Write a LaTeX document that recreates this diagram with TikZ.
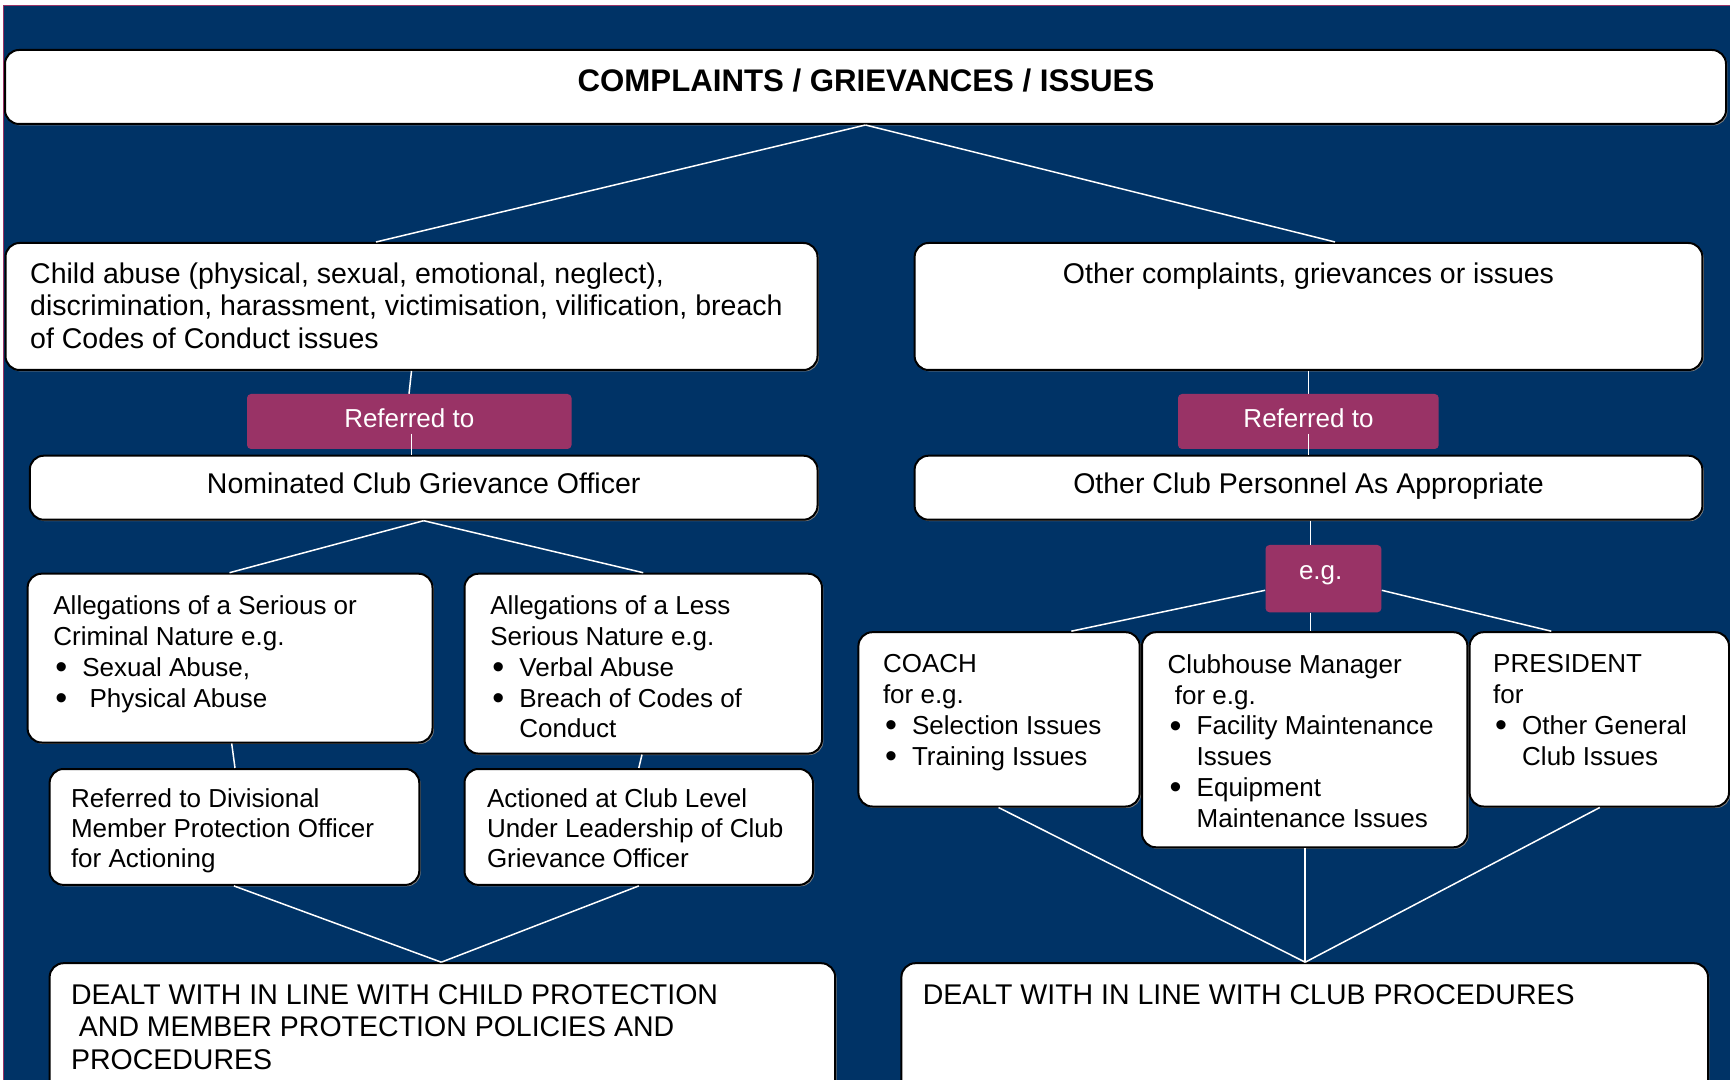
\documentclass[tikz,border=0pt]{standalone}
\usepackage{fontspec}
\setmainfont{Liberation Sans}
\usetikzlibrary{fit,shadows}
\definecolor{bgblue}{RGB}{0,51,102}
\definecolor{maroon}{RGB}{153,51,102}
\newlength\bulw
\setlength\bulw{14.5pt}
\newcommand\Tx[2]{\vtop{\baselineskip=#1\lineskiplimit=-20pt\lineskip=0pt #2}}
\newcommand\Ln[1]{\hbox{#1}}
\newcommand\bigbul{\raisebox{-1.2pt}{\fontsize{17}{17}\selectfont\textbullet}}
\newcommand\bul[1]{\hbox{\makebox[\bulw][l]{\hspace{1pt}\bigbul}#1}}
\newcommand\cont[1]{\hbox{\hspace{\bulw}#1}}
\tikzset{
  box/.style={draw=black, line width=1pt, fill=white, rounded corners=7pt, inner sep=0pt,
    drop shadow={shadow xshift=0.7pt, shadow yshift=-0.7pt, fill=black!50, opacity=1}},
  refbox/.style={fill=maroon, draw=none, rounded corners=2pt, inner sep=0pt},
  conn/.style={draw=white, line width=0.75pt},
  big/.style={font=\fontsize{14.25}{16.25}\selectfont, inner sep=0pt},
  small/.style={font=\fontsize{13}{15.5}\selectfont, inner sep=0pt},
  wtxt/.style={small, text=white}
}
\begin{document}
\begin{tikzpicture}[x=0.5pt,y=-0.5pt]
\useasboundingbox (0,0) rectangle (1730,1080);
\fill[white] (0,0) rectangle (1730,1080);
\fill[bgblue] (3,5) rectangle (1730,1080);
\draw[maroon, line width=0.8pt] (3.5,1080) -- (3.5,5.5) -- (1730,5.5);

% boxes
\node[box, fit={(5,50) (1726,124)}] (top) {};
\node[box, fit={(5.5,243) (817.5,370)}] (A) {};
\node[box, fit={(914.6,243) (1702.4,370)}] (B) {};
\node[box, fit={(29.8,455.7) (817.5,519.7)}] (nomA) {};
\node[box, fit={(914.6,455.7) (1702.4,519.7)}] (nomB) {};
\node[box, fit={(27.6,573.7) (432.5,742.5)}] (C) {};
\node[box, fit={(464.5,573.7) (822,753.6)}] (D) {};
\node[box, fit={(49.6,769) (419.3,884.9)}] (E) {};
\node[box, fit={(464.5,769) (813,884.9)}] (F) {};
\node[box, fit={(49.6,963.2) (835.2,1100)}] (G) {};
\node[box, fit={(901.4,963.2) (1708,1100)}] (H) {};
\node[box, fit={(858.4,632.2) (1139.7,806.5)}] (I) {};
\node[box, fit={(1142,632.2) (1467.4,847.3)}] (J) {};
\node[box, fit={(1469.6,632.2) (1729,806.5)}] (K) {};

% connectors
\draw[conn] (top.south) -- (A.north -| 376,0);
\draw[conn] (top.south) -- (B.north -| 1335,0);
\draw[conn] (A.south -| 411.5,0) -- (409,394) coordinate (rAt);
\draw[conn] (B.south -| 1308.5,0) -- (1308.5,394) coordinate (rBt);
\node[refbox, fit={(247,394) (571.5,449)}] (refA) {};
\node[refbox, fit={(1178,394) (1438.7,449)}] (refB) {};
\draw[conn] (411.5,433.6) coordinate (rAb) -- (nomA.north -| 411.5,0);
\draw[conn] (1308.5,433.6) coordinate (rBb) -- (nomB.north -| 1308.5,0);

\draw[conn] (nomA.south) -- (C.north -| 229.5,0);
\draw[conn] (nomA.south) -- (D.north -| 643.2,0);
\draw[conn] (C.south -| 231.7,0) -- (E.north -| 235,0);
\draw[conn] (D.south -| 642,0) -- (F.north -| 638.8,0);
\draw[conn] (E.south -| 233.9,0) -- (G.north -| 441.3,0);
\draw[conn] (F.south -| 638.8,0) -- (G.north -| 441.3,0);

\node[refbox, fit={(1265.5,545) (1381.4,612.3)}] (eg) {};
\draw[conn] (nomB.south -| 1310.7,0) -- (eg.north -| 1310.7,0);
\draw[conn] (eg.west |- 0,590.3) -- (I.north -| 1071.3,0);
\draw[conn] (eg.east |- 0,590.3) -- (K.north -| 1551.3,0);
\draw[conn] (eg.south -| 1310.7,0) -- (J.north -| 1310.7,0);
\draw[conn] (I.south -| 998.5,0) -- (H.north -| 1305.2,0);
\draw[conn] (J.south -| 1305.2,0) -- (H.north -| 1305.2,0);
\draw[conn] (K.south -| 1599.8,0) -- (H.north -| 1305.2,0);

% texts
\node[inner sep=0pt, font=\fontsize{15.6}{18}\selectfont\bfseries, anchor=base] (tTop) at (866,91.5) {COMPLAINTS / GRIEVANCES / ISSUES};
\node[big, anchor=base west] (tA) at (29.8,283.5) {\Tx{16.25pt}{\Ln{Child abuse (physical, sexual, emotional, neglect),}\Ln{discrimination, harassment, victimisation, vilification, breach}\Ln{of Codes of Conduct issues}}};
\node[big, anchor=base] (tB) at (1308.5,283.5) {Other complaints, grievances or issues};
\node[wtxt, anchor=base] (tRA) at (409.3,428) {Referred to};
\node[wtxt, anchor=base] (tRB) at (1308.5,428) {Referred to};
\node[big, anchor=base] (tNA) at (423.7,494) {Nominated Club Grievance Officer};
\node[big, anchor=base] (tNB) at (1308.5,494) {Other Club Personnel As Appropriate};
\node[small, anchor=base west] (tC) at (53,614) {\Tx{15.5pt}{\Ln{Allegations of a Serious or}\Ln{Criminal Nature e.g.}\bul{Sexual Abuse,}\bul{\ Physical Abuse}}};
\node[small, anchor=base west] (tD) at (490,614) {\Tx{15.5pt}{\Ln{Allegations of a Less}\Ln{Serious Nature e.g.}\bul{Verbal Abuse}\bul{Breach of Codes of}\cont{Conduct}}};
\node[small, anchor=base west] (tE) at (70.6,807) {\Tx{15pt}{\Ln{Referred to Divisional}\Ln{Member Protection Officer}\Ln{for Actioning}}};
\node[small, anchor=base west] (tF) at (486.6,807) {\Tx{15pt}{\Ln{Actioned at Club Level}\Ln{Under Leadership of Club}\Ln{Grievance Officer}}};
\node[big, anchor=base west] (tG) at (70.6,1004) {\Tx{16.25pt}{\Ln{DEALT WITH IN LINE WITH CHILD PROTECTION}\Ln{\ AND MEMBER PROTECTION POLICIES AND}\Ln{PROCEDURES}}};
\node[big, anchor=base west] (tH) at (922.4,1004) {DEALT WITH IN LINE WITH CLUB PROCEDURES};
\node[wtxt, anchor=base] (tEg) at (1320.7,579) {e.g.};
\node[small, anchor=base west] (tI) at (882.6,672.4) {\Tx{15.5pt}{\Ln{COACH}\Ln{for e.g.}\bul{Selection Issues}\bul{Training Issues}}};
\node[small, anchor=base west] (tJ) at (1167.3,673.5) {\Tx{15.35pt}{\Ln{Clubhouse Manager}\Ln{\ for e.g.}\bul{Facility Maintenance}\cont{Issues}\bul{Equipment}\cont{Maintenance Issues}}};
\node[small, anchor=base west] (tK) at (1492.8,672.4) {\Tx{15.5pt}{\Ln{PRESIDENT}\Ln{for}\bul{Other General}\cont{Club Issues}}};
\end{tikzpicture}
\end{document}
